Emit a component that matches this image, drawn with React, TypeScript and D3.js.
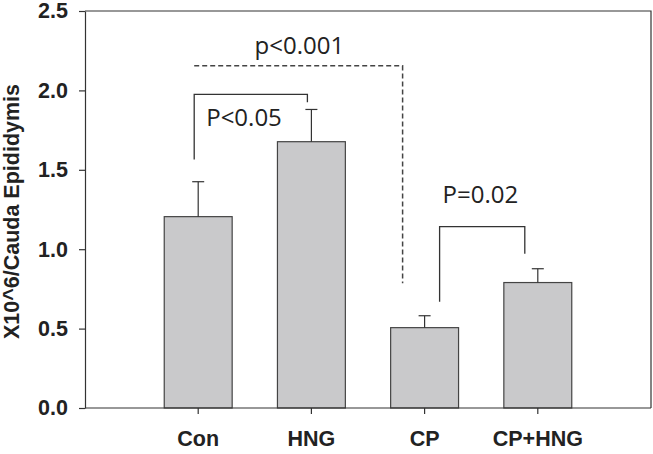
import * as d3 from 'd3';
import { useEffect, useRef } from 'react';

const groups = ['Con', 'HNG', 'CP', 'CP+HNG'];
const means = [1.205, 1.677, 0.506, 0.79];
const errors = [0.22, 0.203, 0.075, 0.087];
const yTicks = [0, 0.5, 1.0, 1.5, 2.0, 2.5];

// brackets: legs in data units, x as group + offset (px)
const brackets = [
    { from: 'Con', fromDx: -4, to: 'CP', toDx: -22, top: 2.155, leftEnd: 2.155, rightEnd: 0.785, dashed: true, label: 'p<0.001', labelX: 'HNG', labelDx: -12, labelY: 2.23 },
    { from: 'Con', fromDx: -4, to: 'HNG', toDx: -4, top: 1.975, leftEnd: 1.565, rightEnd: 1.925, dashed: false, label: 'P<0.05', labelX: 'Con', labelDx: 8, labelY: 1.775, anchor: 'start' },
    { from: 'CP', fromDx: 15, to: 'CP+HNG', toDx: -13, top: 1.142, leftEnd: 0.669, rightEnd: 0.972, dashed: false, label: 'P=0.02', labelX: 'CP', labelDx: 18, labelY: 1.293, anchor: 'start' },
];

export default function App() {
    const ref = useRef<SVGSVGElement | null>(null);

    useEffect(() => {
        if (!ref.current) return;
        const svg = d3.select(ref.current);
        svg.selectAll('*').remove();

        const width = 653;
        const height = 454;
        const margin = { top: 11, right: 2, bottom: 46, left: 85 };

        const x = d3
            .scaleBand()
            .domain(groups)
            .range([margin.left, width - margin.right])
            .paddingInner(0.4)
            .paddingOuter(0.7);
        const y = d3.scaleLinear().domain([0, 2.5]).range([height - margin.bottom, margin.top]);
        const cx = (g: string) => x(g)! + x.bandwidth() / 2;

        const axisColor = '#333';

        // frame (top & right)
        svg.append('path')
            .attr('d', `M${margin.left},${y(2.5)}H${width - margin.right}V${y(0)}`)
            .attr('fill', 'none')
            .attr('stroke', axisColor)
            .attr('stroke-width', 1.2);

        // bars
        svg.append('g')
            .selectAll('rect')
            .data(groups)
            .join('rect')
            .attr('x', (d) => x(d)!)
            .attr('y', (_, i) => y(means[i]))
            .attr('width', x.bandwidth())
            .attr('height', (_, i) => y(0) - y(means[i]))
            .attr('fill', '#c9c9cb')
            .attr('stroke', '#444')
            .attr('stroke-width', 1.2);

        // error bars
        const eb = svg.append('g').attr('stroke', '#333').attr('stroke-width', 1.2);
        groups.forEach((g, i) => {
            const top = y(means[i] + errors[i]);
            eb.append('line').attr('x1', cx(g)).attr('x2', cx(g)).attr('y1', y(means[i])).attr('y2', top);
            eb.append('line').attr('x1', cx(g) - 6).attr('x2', cx(g) + 6).attr('y1', top).attr('y2', top);
        });

        // axes
        const yAxis = d3
            .axisLeft(y)
            .tickValues(yTicks)
            .tickFormat(d3.format('.1f'))
            .tickSizeInner(6)
            .tickSizeOuter(0)
            .tickPadding(11);
        svg.append('g')
            .attr('transform', `translate(${margin.left},0)`)
            .call(yAxis)
            .call((g) => g.selectAll('line, path').attr('stroke', axisColor).attr('stroke-width', 1.2))
            .selectAll('text')
            .style('font-family', '"Liberation Sans", Arial, sans-serif')
            .style('font-weight', 'bold')
            .style('font-size', '21.5px')
            .attr('fill', '#222');

        const xAxis = d3.axisBottom(x).tickSizeInner(6).tickSizeOuter(0).tickPadding(17);
        svg.append('g')
            .attr('transform', `translate(0,${y(0)})`)
            .call(xAxis)
            .call((g) => g.select('.domain').attr('d', `M${margin.left},0H${width - margin.right}`))
            .call((g) => g.selectAll('line, path').attr('stroke', axisColor).attr('stroke-width', 1.2))
            .selectAll('text')
            .style('font-family', '"Liberation Sans", Arial, sans-serif')
            .style('font-weight', 'bold')
            .style('font-size', '21.5px')
            .attr('fill', '#222');

        // y title
        svg.append('text')
            .attr('transform', `translate(18.5,${(y(0) + y(2.5)) / 2 + 2}) rotate(-90)`)
            .attr('text-anchor', 'middle')
            .style('font-family', '"Liberation Sans", Arial, sans-serif')
            .style('font-weight', 'bold')
            .style('font-size', '21.5px')
            .attr('fill', '#222')
            .text('X10^6/Cauda Epididymis');

        // significance brackets
        const ann = svg.append('g');
        brackets.forEach((b) => {
            const x1 = cx(b.from) + b.fromDx;
            const x2 = cx(b.to) + b.toDx;
            ann.append('path')
                .attr('d', `M${x1},${y(b.leftEnd)}V${y(b.top)}H${x2}V${y(b.rightEnd)}`)
                .attr('fill', 'none')
                .attr('stroke', b.dashed ? '#444' : '#333')
                .attr('stroke-width', b.dashed ? 1.5 : 1.3)
                .attr('stroke-dasharray', b.dashed ? '5,3' : null);
            ann.append('text')
                .attr('x', cx(b.labelX) + b.labelDx)
                .attr('y', y(b.labelY))
                .attr('text-anchor', b.anchor ?? 'middle')
                .style('font-family', '"Open Sans", sans-serif')
                .style('font-size', '24px')
                .attr('fill', '#222')
                .text(b.label);
        });
    }, []);

    return (
        <svg
            ref={ref}
            width={653}
            height={454}
            style={{ position: 'absolute', left: 0, top: 0, background: '#fff' }}
        />
    );
}
